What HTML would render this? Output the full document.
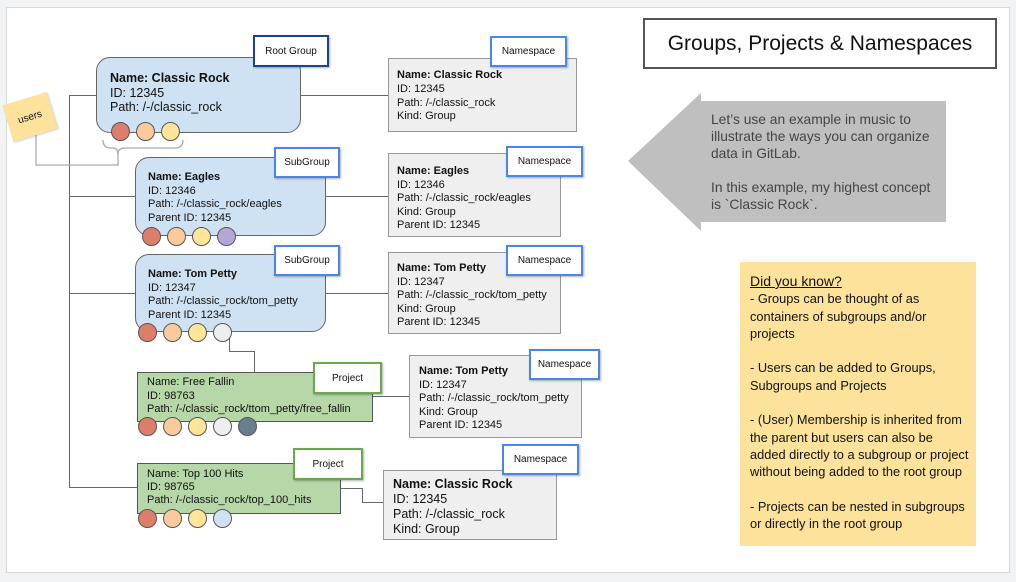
<!DOCTYPE html>
<html><head><meta charset="utf-8"><style>
*{margin:0;padding:0;box-sizing:border-box}
body{width:1016px;height:582px;background:#f1f3f4;font-family:"Liberation Sans",Arial,sans-serif;position:relative;overflow:hidden;color:#111}
.a{position:absolute}
.slide{left:6px;top:7px;width:1004px;height:566px;background:#fff;border:1px solid #d8d8d8}
.grp{background:#cfe2f3;border:1px solid #666;border-radius:14px}
.prj{background:#b6d7a8;border:1px solid #555}
.ns{background:#efefef;border:1px solid #999}
.lbl{background:#fff;font-size:10px;display:flex;align-items:center;justify-content:center;box-shadow:1px 1px 2px rgba(0,0,0,.3)}
.lb{border:2px solid #4a86e8}
.lr{border:2px solid #1c4587}
.lg{border:2px solid #6aa84f}
.t{font-size:11px;line-height:13.5px;white-space:nowrap}
.t b{font-weight:bold}
.c{width:19px;height:19px;border-radius:50%;border:1px solid #555}
.h{height:1px;background:#666}
.v{width:1px;background:#666}
</style></head><body>
<div class="a slide"></div>

<div class="a v" style="left:69px;top:95px;height:393px"></div>
<div class="a h" style="left:69px;top:95px;width:28px"></div>
<div class="a h" style="left:69px;top:196px;width:67px"></div>
<div class="a h" style="left:69px;top:293px;width:67px"></div>
<div class="a h" style="left:69px;top:487px;width:69px"></div>
<div class="a h" style="left:300px;top:95px;width:89px"></div>
<div class="a h" style="left:325px;top:196px;width:64px"></div>
<div class="a h" style="left:325px;top:293px;width:64px"></div>
<div class="a h" style="left:372px;top:396px;width:38px"></div>
<div class="a h" style="left:340px;top:488px;width:22px"></div>
<div class="a v" style="left:362px;top:488px;height:15px"></div>
<div class="a h" style="left:362px;top:502px;width:22px"></div>
<div class="a v" style="left:229px;top:338px;height:14px"></div>
<div class="a h" style="left:229px;top:351px;width:25px"></div>
<div class="a v" style="left:254px;top:351px;height:22px"></div>

<svg class="a" style="left:0;top:0" width="400" height="200">
<path d="M103 140 Q103 148 111 148 L113 148 Q118 148 118 154 L118 165 L36 165 L36 130" fill="none" stroke="#aaa" stroke-width="1.3"/>
<path d="M183 140 Q183 148 175 148 L125 148 Q118 148 118 154" fill="none" stroke="#aaa" stroke-width="1.3"/>
</svg>
<div class="a" style="left:7px;top:98px;width:46px;height:38px;background:#fce29a;transform:rotate(-17deg);font-size:10px;display:flex;align-items:center;justify-content:center;box-shadow:1px 1px 2px rgba(0,0,0,.2)">users</div>

<div class="a grp" style="left:96px;top:57px;width:205px;height:76px"></div>
<div class="a t" style="left:110px;top:71px;font-size:12.5px;line-height:14.5px"><b>Name: Classic Rock</b><br>ID: 12345<br>Path: /-/classic_rock</div>
<div class="a c" style="left:111px;top:122px;background:#dd7e6b"></div>
<div class="a c" style="left:136px;top:122px;background:#f9cb9c"></div>
<div class="a c" style="left:161px;top:122px;background:#ffe599"></div>
<div class="a lbl lr" style="left:253px;top:35px;width:76px;height:32px">Root Group</div>

<div class="a grp" style="left:135px;top:157px;width:191px;height:79px"></div>
<div class="a t" style="left:148px;top:171px"><b>Name: Eagles</b><br>ID: 12346<br>Path: /-/classic_rock/eagles<br>Parent ID: 12345</div>
<div class="a c" style="left:142px;top:227px;background:#dd7e6b"></div>
<div class="a c" style="left:167px;top:227px;background:#f9cb9c"></div>
<div class="a c" style="left:192px;top:227px;background:#ffe599"></div>
<div class="a c" style="left:217px;top:227px;background:#b4a7d6"></div>
<div class="a lbl lb" style="left:274px;top:147px;width:66px;height:31px">SubGroup</div>

<div class="a grp" style="left:135px;top:254px;width:191px;height:78px"></div>
<div class="a t" style="left:148px;top:268px"><b>Name: Tom Petty</b><br>ID: 12347<br>Path: /-/classic_rock/tom_petty<br>Parent ID: 12345</div>
<div class="a c" style="left:138px;top:323px;background:#dd7e6b"></div>
<div class="a c" style="left:163px;top:323px;background:#f9cb9c"></div>
<div class="a c" style="left:188px;top:323px;background:#ffe599"></div>
<div class="a c" style="left:213px;top:323px;background:#eeeeee"></div>
<div class="a lbl lb" style="left:274px;top:245px;width:66px;height:31px">SubGroup</div>

<div class="a prj" style="left:137px;top:372px;width:236px;height:50px"></div>
<div class="a t" style="left:147px;top:376px">Name: Free Fallin<br>ID: 98763<br>Path: /-/classic_rock/ttom_petty/free_fallin</div>
<div class="a c" style="left:138px;top:417px;background:#dd7e6b"></div>
<div class="a c" style="left:163px;top:417px;background:#f9cb9c"></div>
<div class="a c" style="left:188px;top:417px;background:#ffe599"></div>
<div class="a c" style="left:213px;top:417px;background:#eeeeee"></div>
<div class="a c" style="left:238px;top:417px;background:#67808f"></div>
<div class="a lbl lg" style="left:313px;top:362px;width:69px;height:32px">Project</div>

<div class="a prj" style="left:137px;top:463px;width:204px;height:51px"></div>
<div class="a t" style="left:147px;top:468px;line-height:13px">Name: Top 100 Hits<br>ID: 98765<br>Path: /-/classic_rock/top_100_hits</div>
<div class="a c" style="left:138px;top:509px;background:#dd7e6b"></div>
<div class="a c" style="left:163px;top:509px;background:#f9cb9c"></div>
<div class="a c" style="left:188px;top:509px;background:#ffe599"></div>
<div class="a c" style="left:213px;top:509px;background:#cfe2f3"></div>
<div class="a lbl lg" style="left:293px;top:448px;width:70px;height:32px">Project</div>

<div class="a ns" style="left:388px;top:58px;width:189px;height:74px"></div>
<div class="a t" style="left:397px;top:69px;line-height:13.8px"><b>Name: Classic Rock</b><br>ID: 12345<br>Path: /-/classic_rock<br>Kind: Group</div>
<div class="a lbl lb" style="left:490px;top:36px;width:77px;height:31px">Namespace</div>

<div class="a ns" style="left:388px;top:153px;width:173px;height:84px"></div>
<div class="a t" style="left:397px;top:165px"><b>Name: Eagles</b><br>ID: 12346<br>Path: /-/classic_rock/eagles<br>Kind: Group<br>Parent ID: 12345</div>
<div class="a lbl lb" style="left:506px;top:146px;width:77px;height:31px">Namespace</div>

<div class="a ns" style="left:388px;top:252px;width:173px;height:82px"></div>
<div class="a t" style="left:397px;top:262px"><b>Name: Tom Petty</b><br>ID: 12347<br>Path: /-/classic_rock/tom_petty<br>Kind: Group<br>Parent ID: 12345</div>
<div class="a lbl lb" style="left:506px;top:245px;width:77px;height:31px">Namespace</div>

<div class="a ns" style="left:409px;top:355px;width:173px;height:83px"></div>
<div class="a t" style="left:419px;top:365px"><b>Name: Tom Petty</b><br>ID: 12347<br>Path: /-/classic_rock/tom_petty<br>Kind: Group<br>Parent ID: 12345</div>
<div class="a lbl lb" style="left:529px;top:349px;width:71px;height:31px">Namespace</div>

<div class="a ns" style="left:383px;top:470px;width:174px;height:70px"></div>
<div class="a t" style="left:393px;top:477px;font-size:12.5px;line-height:15px"><b>Name: Classic Rock</b><br>ID: 12345<br>Path: /-/classic_rock<br>Kind: Group</div>
<div class="a lbl lb" style="left:502px;top:444px;width:77px;height:31px">Namespace</div>

<div class="a" style="left:643px;top:18px;width:354px;height:51px;border:2px solid #555;display:flex;align-items:center;justify-content:center;font-size:21px;color:#111">Groups, Projects &amp; Namespaces</div>

<svg class="a" style="left:620px;top:90px" width="340" height="150">
<polygon points="8,71 81,3 81,11 326,11 326,132 81,132 81,141" fill="#bfbfbf"/>
</svg>
<div class="a" style="left:711px;top:111px;font-size:13.8px;line-height:17px;color:#444;width:232px">Let’s use an example in music to illustrate the ways you can organize data in GitLab.<br><br>In this example, my highest concept is `Classic Rock`.</div>

<div class="a" style="left:740px;top:262px;width:236px;height:284px;background:#fce29a"></div>
<div class="a" style="left:750px;top:273px;font-size:12.8px;line-height:17.3px;color:#111;width:220px"><span style="font-size:14px;text-decoration:underline">Did you know?</span><br>- Groups can be thought of as containers of subgroups and/or projects<br><br>- Users can be added to Groups, Subgroups and Projects<br><br>- (User) Membership is inherited from the parent but users can also be added directly to a subgroup or project without being added to the root group<br><br>- Projects can be nested in subgroups or directly in the root group</div>
</body></html>
